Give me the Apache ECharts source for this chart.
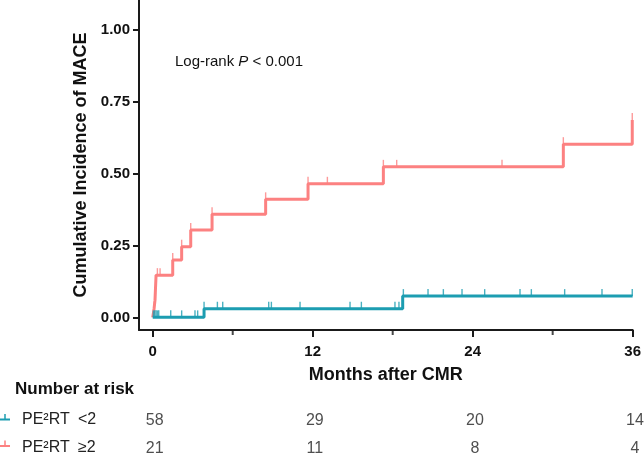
<!DOCTYPE html>
<html>
<head>
<meta charset="utf-8">
<script src="https://cdn.jsdelivr.net/npm/echarts@6/dist/echarts.min.js"></script>
<style>html,body{margin:0;padding:0;background:#fff}#c{width:644px;height:456px}</style>
</head>
<body>
<div id="c"></div>
<script>
// ---- data ----
const xTickValues = [0, 12, 24, 36];
const xMinorTicks = [6, 18, 30];
const yTickValues = [0, 0.25, 0.5, 0.75, 1.0];

const lowTimes = [0, 3.85, 18.75, 36];
const lowCum   = [0, 0.030, 0.074, 0.074];
const lowCensor = [0.05, 0.15, 0.25, 0.35, 0.45, 1.35, 2.17, 3.17, 3.37, 3.85, 4.85, 5.25, 8.7, 8.9, 11.05, 14.8, 15.65, 18.17, 18.47, 18.8, 20.65, 21.8, 23.2, 24.9, 27.55, 28.4, 30.9, 33.7, 35.97];

const highTimes = [0, 0.1, 0.17, 0.25, 1.5, 2.17, 2.85, 4.45, 8.47, 11.65, 17.3, 30.8, 35.97];
const highCum   = [0, 0.03, 0.06, 0.147, 0.20, 0.246, 0.304, 0.359, 0.411, 0.465, 0.524, 0.603, 0.687];
const highCensor = [0.12, 0.2, 0.35, 0.55, 1.5, 2.17, 2.85, 4.45, 8.47, 11.65, 13.1, 17.3, 18.3, 26.2, 30.8, 35.97];

const riskTimes = [0, 12, 24, 36];
const riskLow  = [58, 29, 20, 14];
const riskHigh = [21, 11, 8, 4];
const groupLabels = ['PE²RT', 'PE²RT'];
const groupCuts = ['<2', '≥2'];

const TEAL = '#1c9db1';
const RED = '#fc8181';
const FONT = "'Liberation Sans', Arial, Helvetica, sans-serif";

function stepValue(times, vals, t) {
  let v = vals[0];
  for (let i = 0; i < times.length; i++) { if (times[i] <= t + 1e-9) v = vals[i]; }
  return v;
}

const chart = echarts.init(document.getElementById('c'), null, {renderer: 'canvas'});
const XMIN = -1.03, XMAX = 36;
const YMIN = -0.044, YMAX = 1.105;

const option = {
  backgroundColor: '#fff',
  animation: false,
  textStyle: {fontFamily: FONT},
  grid: [
    {left: 139, right: 11, top: 0, height: 330},
    {left: 139, right: 11, top: 420, height: 28}
  ],
  xAxis: [
    {
      gridIndex: 0, type: 'value', min: XMIN, max: XMAX, position: 'bottom',
      name: 'Months after CMR', nameLocation: 'middle', nameGap: 36,
      nameTextStyle: {fontSize: 18, fontWeight: 'bold', color: '#111', fontFamily: FONT},
      axisLine: {show: true, onZero: false, lineStyle: {color: '#1a1a1a', width: 2}},
      axisTick: {show: true, customValues: xTickValues, length: 7, lineStyle: {color: '#1a1a1a', width: 2}},
      axisLabel: {show: true, customValues: xTickValues, fontSize: 15, fontWeight: 'bold', color: '#111', margin: 14, fontFamily: FONT},
      splitLine: {show: false}
    },
    {gridIndex: 1, type: 'value', min: XMIN, max: XMAX, show: false}
  ],
  yAxis: [
    {
      gridIndex: 0, type: 'value', min: YMIN, max: YMAX,
      name: 'Cumulative Incidence of MACE', nameLocation: 'middle', nameGap: 44,
      nameTextStyle: {fontSize: 18, fontWeight: 'bold', color: '#111', fontFamily: FONT},
      axisLine: {show: true, onZero: false, lineStyle: {color: '#1a1a1a', width: 2}},
      axisTick: {show: true, customValues: yTickValues, length: 6, lineStyle: {color: '#1a1a1a', width: 2}},
      axisLabel: {show: true, customValues: yTickValues, formatter: v => Number(v).toFixed(2), fontSize: 15, fontWeight: 'bold', color: '#111', margin: 9, fontFamily: FONT},
      splitLine: {show: false}
    },
    {gridIndex: 1, type: 'value', min: 0, max: 1, show: false}
  ],
  series: [
    {
      type: 'line', step: 'end', xAxisIndex: 0, yAxisIndex: 0,
      data: highTimes.map((t, i) => [t, highCum[i]]),
      showSymbol: false, lineStyle: {color: RED, width: 3}, itemStyle: {color: RED}, z: 2
    },
    {
      type: 'scatter', xAxisIndex: 0, yAxisIndex: 0,
      data: highCensor.map(t => [t, stepValue(highTimes, highCum, t)]),
      symbol: 'rect', symbolSize: [1.4, 7], symbolOffset: [0, -3.5],
      itemStyle: {color: RED}, z: 2
    },
    {
      type: 'line', step: 'end', xAxisIndex: 0, yAxisIndex: 0,
      data: lowTimes.map((t, i) => [t, lowCum[i]]),
      showSymbol: false, lineStyle: {color: TEAL, width: 3}, itemStyle: {color: TEAL}, z: 3
    },
    {
      type: 'scatter', xAxisIndex: 0, yAxisIndex: 0,
      data: lowCensor.map(t => [t, stepValue(lowTimes, lowCum, t)]),
      symbol: 'rect', symbolSize: [1.4, 7], symbolOffset: [0, -3.5],
      itemStyle: {color: TEAL}, z: 3
    },
    {
      // minor axis ticks at 6, 18, 30 months
      type: 'scatter', xAxisIndex: 0, yAxisIndex: 0, clip: false, silent: true,
      data: xMinorTicks.map(t => [t, YMIN]),
      symbol: 'rect', symbolSize: [2, 5], symbolOffset: [0, 2.5],
      itemStyle: {color: '#1a1a1a'}, z: 4
    },
    {
      type: 'scatter', xAxisIndex: 1, yAxisIndex: 1, symbolSize: 0,
      data: riskTimes.map((t, i) => [t, 1, riskLow[i]]).concat(riskTimes.map((t, i) => [t, 0, riskHigh[i]])),
      label: {show: true, position: 'inside', offset: [2, 1], formatter: p => String(p.data[2]), fontSize: 16, color: '#222', fontFamily: FONT},
      itemStyle: {color: 'transparent'}
    }
  ],
  graphic: [
    {type: 'text', left: 175, top: 54, style: {
      text: '{a|Log-rank }{p|P}{a| < 0.001}',
      rich: {a: {fontSize: 15, fill: '#111', fontFamily: FONT}, p: {fontSize: 15, fontStyle: 'italic', fill: '#111', fontFamily: FONT}}
    }},
    {type: 'text', left: 15, top: 381, style: {text: 'Number at risk', fontSize: 17, fontWeight: 'bold', fill: '#111', fontFamily: FONT}},
    // group 1 row
    {type: 'line', shape: {x1: 0, y1: 419.5, x2: 10, y2: 419.5}, style: {stroke: TEAL, lineWidth: 2}},
    {type: 'line', shape: {x1: 5, y1: 414, x2: 5, y2: 419.5}, style: {stroke: TEAL, lineWidth: 1.5}},
    {type: 'text', left: 22, top: 412, style: {text: groupLabels[0], fontSize: 16, fill: '#222', fontFamily: FONT}},
    {type: 'text', left: 78, top: 412, style: {text: groupCuts[0], fontSize: 16, fill: '#222', fontFamily: FONT}},
    // group 2 row
    {type: 'line', shape: {x1: 0, y1: 446, x2: 10, y2: 446}, style: {stroke: RED, lineWidth: 2}},
    {type: 'line', shape: {x1: 5, y1: 440.5, x2: 5, y2: 446}, style: {stroke: RED, lineWidth: 1.5}},
    {type: 'text', left: 22, top: 440, style: {text: groupLabels[1], fontSize: 16, fill: '#222', fontFamily: FONT}},
    {type: 'text', left: 78, top: 440, style: {text: groupCuts[1], fontSize: 16, fill: '#222', fontFamily: FONT}}
  ]
};
chart.setOption(option);
</script>
</body>
</html>
